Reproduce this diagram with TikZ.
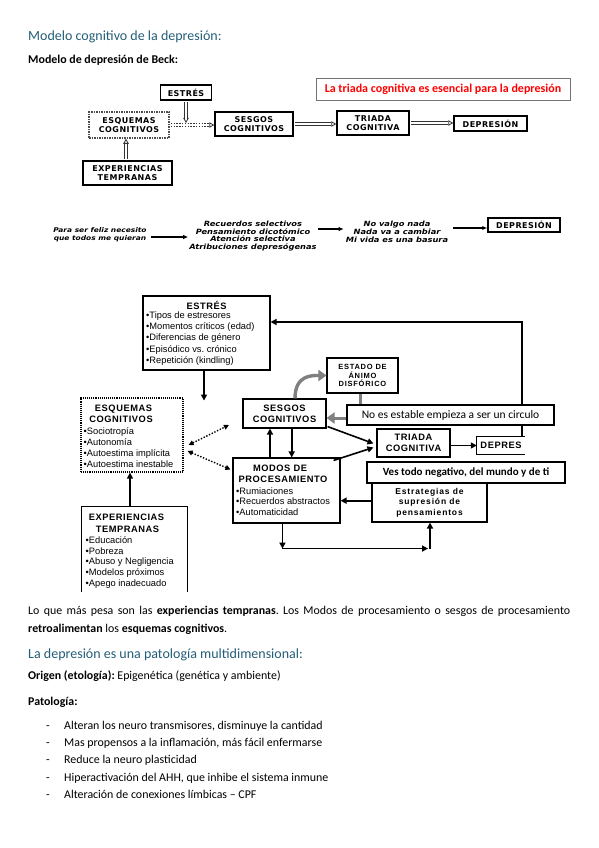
\documentclass[tikz,border=0pt]{standalone}
\usepackage{fontspec}
\setmainfont{Carlito}
\newfontfamily\arialf{Liberation Sans}
\newfontfamily\arialsp[LetterSpace=6]{Liberation Sans}
\newfontfamily\arialmd[LetterSpace=10]{Liberation Sans}
\newfontfamily\arialwd[LetterSpace=10]{Liberation Sans}
\newfontfamily\verdsp[LetterSpace=6]{DejaVu Sans}
\newfontfamily\verdst[FakeStretch=1.15]{DejaVu Sans}
\usetikzlibrary{arrows.meta,calc}
\definecolor{headblue}{RGB}{36,94,120}
\definecolor{alertred}{RGB}{255,0,0}
\definecolor{arrowgray}{RGB}{128,128,128}
\frenchspacing
\begin{document}
\begin{tikzpicture}[x=1pt,y=-1pt,
  topbox/.style={draw, line width=1.5pt, inner sep=0, align=center,
     font=\verdsp\bfseries\fontsize{8}{8.6}\selectfont},
  dbl/.style={draw=black!80, line width=3.6pt,
     -{Triangle[open,length=5pt,width=5.5pt,line width=0.8pt]},
     postaction={draw=white, line width=1.4pt, arrows=-, shorten >=5.6pt}},
  itr/.style={inner sep=0, align=center, font=\verdst\bfseries\itshape\fontsize{6.5}{7.5}\selectfont},
  arr/.style={line width=1.2pt, -{Latex[length=5pt,width=4.5pt]}},
  bbox/.style={draw, line width=1.1pt, inner sep=0, fill=white},
  ttl/.style={inner sep=0, align=center, font=\arialsp\bfseries\fontsize{9.3}{11.2}\selectfont},
  itm/.style={inner sep=0, anchor=west, text height=6.8pt, text depth=2pt, font=\arialf\fontsize{9.3}{11}\selectfont},
  barr/.style={line width=1.6pt, -{Triangle[length=6pt,width=6pt]}},
  darr/.style={line width=1.4pt, dash pattern=on 1.4pt off 1.6pt,
     {Triangle[length=5pt,width=5pt]}-{Triangle[length=5pt,width=5pt]}},
  garr/.style={draw=arrowgray, line width=3.4pt, -{Triangle[length=8pt,width=11pt]}},
  bodyt/.style={anchor=west, inner sep=0, text height=8pt, text depth=2.5pt, font=\fontsize{11.9}{14}\selectfont},
  headt/.style={anchor=west, inner sep=0, text height=9pt, text depth=3pt, text=headblue, font=\fontsize{14}{16}\selectfont},
]
\fill[white] (0,0) rectangle (599,848);
\useasboundingbox (0,0) rectangle (599,848);

% ---------- header ----------
\node[headt] (h1) at (28,38) {Modelo cognitivo de la depresión:};
\node[bodyt, font=\bfseries\fontsize{11.9}{14}\selectfont] (h2) at (28,61) {Modelo de depresión de Beck:};

% ---------- first diagram ----------
\node[topbox, minimum width=51pt, minimum height=15pt] (estA) at (186,92.5) {ESTRÉS};
\node[topbox, draw=black!70, densely dotted, minimum width=80pt, minimum height=26pt] (esqA) at (129,125) {ESQUEMAS\\COGNITIVOS};
\node[topbox, minimum width=78pt, minimum height=24pt] (sesA) at (254,124) {SESGOS\\COGNITIVOS};
\node[topbox, minimum width=89pt, minimum height=24pt] (expA) at (127.5,173) {EXPERIENCIAS\\TEMPRANAS};
\node[topbox, minimum width=72pt, minimum height=24pt] (triA) at (373,123) {TRIADA\\COGNITIVA};
\node[topbox, minimum width=73pt, minimum height=15pt] (depA) at (490.5,123.5) {DEPRESIÓN};
\node[draw=black!55, line width=0.8pt, minimum width=254pt, minimum height=22pt, inner sep=0,
      text=alertred, font=\bfseries\fontsize{12}{14}\selectfont] (redA) at (443,89)
      {La triada cognitiva es esencial para la depresión};

\coordinate (jA) at ($(esqA.east)!0.38!(esqA.east -| sesA.west)$);
\draw[dbl, dash pattern=on 1.5pt off 1.3pt] ($(esqA.east)+(1,0)$) -- (esqA.east -| sesA.west);
\draw[dbl, shorten >=2pt] ($(estA.south)+(0,0.8)$) -- (estA.south |- jA);
\draw[dbl] ($(expA.north)+(-1.5,-0.8)$) -- ($(expA.north |- esqA.south)+(-1.5,0)$);
\draw[dbl] ($(sesA.east)+(0.8,0)$) -- (sesA.east -| triA.west);
\draw[dbl] ($(triA.east)+(0.8,0)$) -- (triA.east -| depA.west);

% ---------- second row ----------
\node[itr] (p1) at (100,234.5) {Para ser feliz necesito\\que todos me quieran};
\node[itr, font=\verdst\bfseries\itshape\fontsize{7.2}{7.7}\selectfont] (p2) at (253,236) {Recuerdos selectivos\\Pensamiento dicotómico\\Atención selectiva\\Atribuciones depresógenas};
\node[itr, font=\verdst\bfseries\itshape\fontsize{7.2}{7.7}\selectfont] (p3) at (397,232) {No valgo nada\\Nada va a cambiar\\Mi vida es una basura};
\node[topbox, minimum width=72pt, minimum height=14pt] (depR) at (524,225) {DEPRESIÓN};
\draw[arr] ($(p1.east)+(4,2.5)$) -- ($(p1.east -| p2.west)+(-1,2.5)$);
\draw[arr] ($(p2.east)+(1,-7)$) -- ($(p2.east -| p3.west)+(-2,-7)$);
\draw[arr] ($(p3.east)+(5,-4)$) -- ($(p3.east -| depR.west)+(0,-4)$);

% ---------- big diagram ----------
\node[bbox, minimum width=127pt, minimum height=74pt] (estB) at (206.5,333) {};
\node[ttl] (estT) at (206.5,305) {ESTRÉS};
\foreach \t [count=\i] in {Tipos de estresores, Momentos críticos (edad), Diferencias de género, Episódico vs. crónico, Repetición (kindling)}
  \node[itm] (estI\i) at (146,{316+(\i-1)*11.25}) {•\t};

\node[bbox, densely dotted, line width=1.2pt, minimum width=102pt, minimum height=74pt] (esqB) at (132,435) {};
\node[ttl] (esqT1) at (123.5,409) {ESQUEMAS};
\node[ttl] (esqT2) at (121,419.5) {COGNITIVOS};
\foreach \t [count=\i] in {Sociotropía, Autonomía, Autoestima implícita, Autoestima inestable}
  \node[itm] (esqI\i) at (83.5,{432+(\i-1)*11}) {•\t};

\node[bbox, ttl, minimum width=83pt, minimum height=29pt] (sesB) at (284.5,413.5) {SESGOS\\COGNITIVOS};
\node[bbox, ttl, font=\arialmd\bfseries\fontsize{7.5}{8.5}\selectfont, minimum width=71pt, minimum height=35pt] (estado) at (362.5,375.5) {ESTADO DE\\ÁNIMO\\DISFÓRICO};
\node[bbox, ttl, minimum width=73pt, minimum height=28pt] (triB) at (413.5,443) {TRIADA\\COGNITIVA};
\node[ttl, minimum width=48pt, minimum height=17pt] (depB) at (501,445.5) {DEPRES};
\draw[line width=1.1pt] (depB.north east) -- (depB.north west) -- (depB.south west) -- (depB.south east);

\node[bbox, minimum width=107pt, minimum height=65pt] (modB) at (286.5,490.5) {};
\node[ttl] (modT1) at (280,468) {MODOS DE};
\node[ttl] (modT2) at (283,479) {PROCESAMIENTO};
\foreach \t [count=\i] in {Rumiaciones, Recuerdos abstractos, Automaticidad}
  \node[itm] (modI\i) at (236,{492+(\i-1)*10.5}) {•\t};

\node[bbox, ttl, font=\arialwd\bfseries\fontsize{8.5}{10.5}\selectfont, minimum width=115pt, minimum height=39pt] (estrB) at (429.5,502.5) {Estrategias de\\supresión de\\pensamientos};

\node[inner sep=0, minimum width=105pt, minimum height=85pt] (expB) at (134.5,549.5) {};
\draw[line width=1.1pt] (expB.south west) -- (expB.north west) -- (expB.north east) -- (expB.south east);
\node[ttl] (expT1) at (126.5,517) {EXPERIENCIAS};
\node[ttl] (expT2) at (127.5,529) {TEMPRANAS};
\foreach \t [count=\i] in {Educación, Pobreza, Abuso y Negligencia, Modelos próximos, Apego inadecuado}
  \node[itm] (expI\i) at (85.5,{541+(\i-1)*10.75}) {•\t};

% loop back to stress and gray arrows (under the white boxes)
\draw[barr] ($(depB.north east)+(-3,0)$) |- ($(estB.east)+(0,-11)$);
\draw[garr] ($(sesB.north)+(10.5,0)$) .. controls +(0,-24) and +(-14,0) .. (estado.west);
\draw[garr, line width=3pt] ($(estado.south)+(-2,0)$) |- ($(sesB.east)+(0,4.5)$);

\node[bbox, minimum width=207pt, minimum height=20pt, font=\fontsize{11.5}{13}\selectfont] (noes) at (450.5,415) {No es estable empieza a ser un circulo};
\node[bbox, minimum width=198pt, minimum height=21pt, font=\bfseries\fontsize{11}{13}\selectfont] (vesB) at (466,472.5) {Ves todo negativo, del mundo y de ti};

% black arrows
\draw[barr] ($(estB.south)+(-2.5,0)$) -- ++(0,30);
\draw[darr] ($(esqB.east)+(5,10)$) -- ($(sesB.west)+(-13.5,11.5)$);
\draw[darr] ($(esqB.east)+(4,16)$) -- ($(modB.west)+(-2,-21)$);
\draw[barr] ($(modB.north)+(-16.5,0)$) -- ($(sesB.south)+(-14.5,0)$);
\draw[barr] ($(sesB.south)+(7.2,0)$) -- ($(modB.north)+(5.2,0)$);
\draw[barr] ($(sesB.south east)+(1,-2)$) -- ($(triB.west)+(-3,0.5)$);
\draw[barr] ($(modB.north east)+(-7,3)$) -- ($(triB.west)+(-3,4.5)$);
\draw[barr] (triB.east |- depB.west) -- (depB.west);
\draw[barr] ($(estrB.west)+(0,-1.8)$) -- ($(estrB.west -| modB.east)+(0,-1.8)$);
\coordinate (bl) at ($(modB.south west)+(50,25)$);
\coordinate (br) at ($(estrB.south)+(0.5,26)$);
\draw[barr] ($(modB.south west)+(50,0)$) -- (bl);
\draw[barr] (bl) -- ($(br)+(-2,0)$);
\draw[barr] (br) -- (br |- estrB.south);
\draw[barr] ($(expB.north)+(-4.5,0)$) -- ($(esqB.south)+(-2,0)$);

% ---------- text below ----------
\node[anchor=north west, inner sep=0, text width=542pt, align=justify, font=\fontsize{11.9}{18}\selectfont] (para) at (28,606)
  {Lo que más pesa son las \textbf{experiencias tempranas}. Los Modos de procesamiento o sesgos de procesamiento\linebreak
   \textbf{retroalimentan} los \textbf{esquemas cognitivos}.};
\node[headt] (h3) at (28,655) {La depresión es una patología multidimensional:};
\node[bodyt] (orig) at (28,677) {\textbf{Origen (etología):} Epigenética (genética y ambiente)};
\node[bodyt, font=\bfseries\fontsize{11.9}{14}\selectfont] (pat) at (28,703) {Patología:};
\foreach \t [count=\i] in {Alteran los neuro transmisores{,} disminuye la cantidad,
    Mas propensos a la inflamación{,} más fácil enfermarse,
    Reduce la neuro plasticidad,
    Hiperactivación del AHH{,} que inhibe el sistema inmune,
    Alteración de conexiones límbicas – CPF} {
  \node[bodyt] (dash\i) at (46,{726.5+(\i-1)*17.3}) {-};
  \node[bodyt] (item\i) at (64,{726.5+(\i-1)*17.3}) {\t};
}
\end{tikzpicture}
\end{document}
